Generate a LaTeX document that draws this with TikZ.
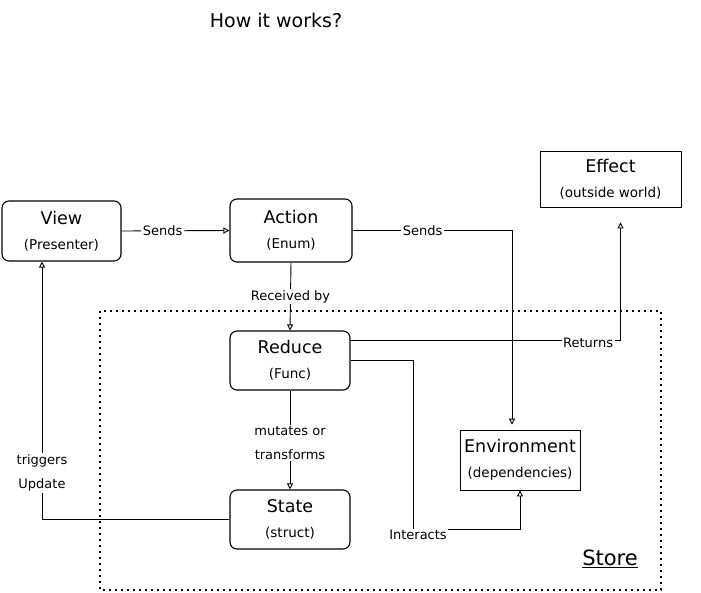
\documentclass[tikz,border=0pt]{standalone}
\usepackage{fontspec}
\setmainfont{DejaVu Sans}
\usetikzlibrary{arrows.meta}
\tikzset{
  box/.style={draw, line width=0.8pt, fill=white, align=center, inner sep=0pt,
    font=\fontsize{17.5}{25}\selectfont},
  rbox/.style={box, line width=1.1pt, rounded corners=7pt},
  conn/.style={line width=0.9pt},
  arr/.style={conn, -{Triangle[open,length=6pt,width=6pt]}},
  lab/.style={fill=white, font=\fontsize{13}{24}\selectfont, inner sep=1.5pt, align=center},
  storeline/.style={line width=1.7pt, dash pattern=on 1.7pt off 4.3pt},
}
\newcommand\subt[1]{{\fontsize{13.5}{25}\selectfont #1}}
\begin{document}
\begin{tikzpicture}[x=1pt,y=-1pt]
\useasboundingbox (0,0) rectangle (701,592);

% title
\node[font=\fontsize{19}{22}\selectfont] (title) at (276,20) {How it works?};

% store region
\draw[storeline] (100,311) rectangle (661,590);
\node[font=\fontsize{21}{24}\selectfont] (store) at (610,559) {\underline{Store}};

% boxes
\node[rbox, minimum width=119pt, minimum height=60pt] (view) at (61.5,231) {View\\\subt{(Presenter)}};
\node[rbox, minimum width=122pt, minimum height=63pt] (action) at (291,230.5) {Action\\\subt{(Enum)}};
\node[box, minimum width=141pt, minimum height=56pt] (effect) at (610.5,179) {Effect\\\subt{(outside world)}};
\node[rbox, minimum width=120pt, minimum height=59pt] (reduce) at (290,360.5) {Reduce\\\subt{(Func)}};
\node[box, minimum width=120pt, minimum height=60pt] (env) at (520,460) {Environment\\\subt{(dependencies)}};
\node[rbox, minimum width=120pt, minimum height=59pt] (state) at (290,519.5) {State\\\subt{(struct)}};

% connectors
\draw[arr] (view.east) -- node[lab, pos=0.38] {Sends} (action.west);
\draw[arr, shorten >=5pt] (action.east) -| node[lab, pos=0.22] {Sends} ([xshift=-8pt]env.north);
\draw[arr] (action.south) -- node[lab] {Received by} (reduce.north);
\draw[arr, shorten >=15pt] ([yshift=20pt]reduce.east) -| node[lab, pos=0.44, yshift=-2pt] {Returns} ([xshift=10pt]effect.south);
\draw[arr] (reduce.south) -- node[lab, pos=0.53] {mutates or\\transforms} (state.north);
\coordinate (ic) at (413,529);
\draw[conn] (reduce.east) -| (ic);
\draw[arr] (ic) -| (env.south);
\node[lab, anchor=center] (interacts) at (418,535) {Interacts};
\draw[arr] (state.west) -| node[lab, pos=0.59] {triggers\\Update} ([xshift=-19.5pt]view.south);
\end{tikzpicture}
\end{document}
